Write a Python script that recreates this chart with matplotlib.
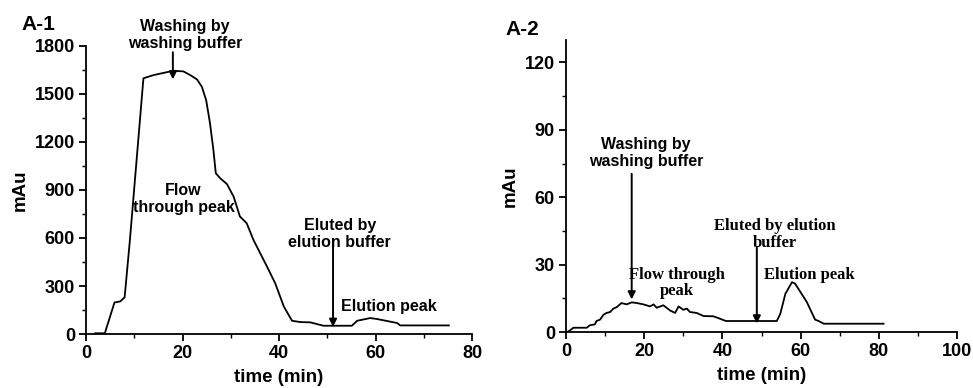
import matplotlib.pyplot as plt
from matplotlib.ticker import MultipleLocator

plt.rcParams['font.family'] = ['Liberation Sans', 'DejaVu Sans']
plt.rcParams['font.weight'] = 'bold'

# A-1 trace
t1 = [1.9, 3.9, 5.9, 7.1, 8.0, 9.1, 11.9, 14.0, 18.1, 20.2, 21.6, 23.0, 24.0, 24.9,
      25.7, 26.4, 26.9, 27.8, 29.2, 30.6, 31.9, 33.3, 34.7, 37.5, 39.2, 41.0, 42.7,
      44.4, 46.5, 49.2, 55.1, 56.2, 58.9, 60.3, 64.5, 65.1, 75.2]
mau1 = [5, 5, 197, 204, 229, 588, 1597, 1617, 1644, 1640, 1617, 1590, 1545, 1461,
        1316, 1150, 1004, 973, 937, 858, 734, 692, 588, 422, 318, 172, 83,
        75, 73, 52, 52, 83, 100, 94, 69, 54, 54]

# A-2 trace
t2 = [0.3, 1.0, 1.9, 5.3, 6.1, 7.4, 7.8, 8.7, 9.6, 10.4, 11.3, 12.1, 13.0, 14.2,
      15.5, 16.8, 18.1, 19.8, 21.5, 22.4, 23.2, 24.9, 26.6, 27.9, 28.8, 30.0, 30.9,
      31.7, 33.4, 35.2, 37.7, 39.4, 40.9, 53.9, 54.8, 56.1, 57.8, 58.6, 61.6, 63.7,
      64.6, 65.9, 81.2]
mau2 = [0, 0.7, 1.9, 1.9, 3.0, 3.4, 4.9, 5.5, 7.7, 8.5, 8.9, 10.4, 11.1, 12.9,
        12.3, 13.2, 12.9, 12.3, 11.4, 12.3, 10.8, 11.9, 9.6, 8.5, 11.4, 9.9, 10.4,
        8.9, 8.5, 7.1, 7.0, 5.9, 4.9, 4.9, 8.1, 17.0, 22.2, 21.5, 13.3, 5.5,
        4.9, 3.7, 3.7]

fig = plt.figure(figsize=(9.73, 3.88), dpi=100)
ax1 = fig.add_axes([0.0884, 0.139, 0.3967, 0.743])
ax2 = fig.add_axes([0.5817, 0.1443, 0.4019, 0.7527])

arrow = dict(arrowstyle='-|>', color='k', lw=1.4, mutation_scale=11, shrinkA=0, shrinkB=0)

for ax in (ax1, ax2):
    for s in ('top', 'right'):
        ax.spines[s].set_visible(False)
    for s in ('left', 'bottom'):
        ax.spines[s].set_linewidth(1.3)
    ax.tick_params(which='major', direction='out', length=5, width=1.3, labelsize=13, pad=3)
    ax.tick_params(which='minor', direction='out', length=3, width=1.0)
    ax.set_xlabel('time (min)', fontsize=13.5, fontweight='bold', labelpad=5)
    ax.set_ylabel('mAu', fontsize=13.5, fontweight='bold', labelpad=4)

# A-1
ax1.plot(t1, mau1, color='k', lw=1.3)
ax1.set_xlim(0, 80)
ax1.set_ylim(0, 1800)
ax1.xaxis.set_major_locator(MultipleLocator(20))
ax1.xaxis.set_minor_locator(MultipleLocator(10))
ax1.yaxis.set_major_locator(MultipleLocator(300))
ax1.yaxis.set_minor_locator(MultipleLocator(150))
ax1.text(-0.166, 1.055, 'A-1', transform=ax1.transAxes, fontsize=15, fontweight='bold')
ax1.text(20.5, 1865, 'Washing by\nwashing buffer', ha='center', va='center',
         fontsize=11.5, fontweight='bold', linespacing=1.15, clip_on=False)
ax1.annotate('', xy=(18.0, 1590), xytext=(18.0, 1760), arrowprops=arrow, annotation_clip=False)
ax1.text(20.2, 845, 'Flow\nthrough peak', ha='center', va='center',
         fontsize=11.5, fontweight='bold', linespacing=1.15)
ax1.text(52.6, 627, 'Eluted by\nelution buffer', ha='center', va='center',
         fontsize=11.5, fontweight='bold', linespacing=1.15)
ax1.annotate('', xy=(51.2, 45), xytext=(51.2, 545), arrowprops=arrow)
ax1.text(62.7, 173, 'Elution peak', ha='center', va='center', fontsize=11.5, fontweight='bold')

# A-2
ax2.plot(t2, mau2, color='k', lw=1.3)
ax2.set_xlim(0, 100)
ax2.set_ylim(0, 130)
ax2.xaxis.set_major_locator(MultipleLocator(20))
ax2.xaxis.set_minor_locator(MultipleLocator(10))
ax2.yaxis.set_major_locator(MultipleLocator(30))
ax2.yaxis.set_minor_locator(MultipleLocator(15))
ax2.text(-0.156, 1.017, 'A-2', transform=ax2.transAxes, fontsize=15, fontweight='bold')
ax2.text(20.4, 79.8, 'Washing by\nwashing buffer', ha='center', va='center',
         fontsize=11.5, fontweight='bold', linespacing=1.15)
ax2.annotate('', xy=(16.8, 14.5), xytext=(16.8, 70.4), arrowprops=arrow)
serif = ['Liberation Serif', 'DejaVu Serif']
ax2.text(53.5, 43.5, 'Eluted by elution\nbuffer', ha='center', va='center',
         fontsize=12, fontweight='bold', family=serif, linespacing=1.05)
ax2.annotate('', xy=(48.8, 3.8), xytext=(48.8, 37.8), arrowprops=arrow)
ax2.text(28.3, 21.8, 'Flow through\npeak', ha='center', va='center',
         fontsize=12, fontweight='bold', family=serif, linespacing=1.05)
ax2.text(62.2, 25.6, 'Elution peak', ha='center', va='center',
         fontsize=12, fontweight='bold', family=serif)

fig.savefig('out.png', dpi=100)
